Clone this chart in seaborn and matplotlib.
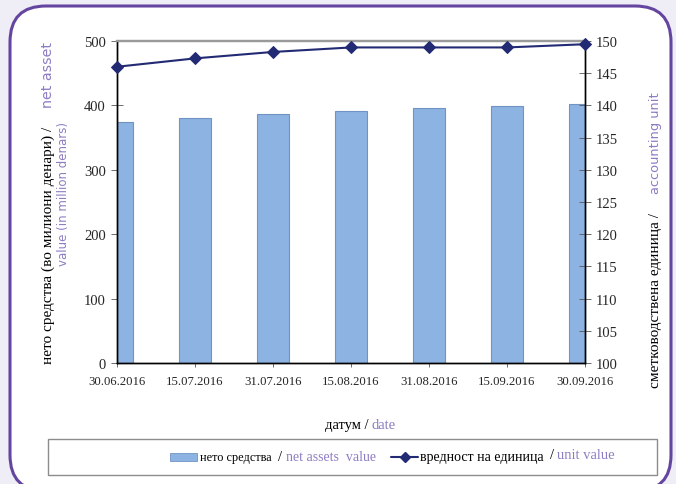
import numpy as np
import matplotlib
matplotlib.use("Agg")
import matplotlib.pyplot as plt
from matplotlib.patches import FancyBboxPatch, Rectangle
from matplotlib.lines import Line2D
import seaborn as sns

dates = ["30.06.2016", "15.07.2016", "31.07.2016", "15.08.2016",
         "31.08.2016", "15.09.2016", "30.09.2016"]
net_assets = [374, 380, 386, 391, 396, 399, 402]
unit_value = [146.0, 147.3, 148.3, 149.0, 149.0, 149.0, 149.5]

BAR = "#8db3e2"
BAR_EDGE = "#7193c4"
LINE = "#232a74"
PURPLE = "#8e7cc3"
FRAME = "#6445a0"
BG = "#efeef6"

sns.set_theme(style="white")
plt.rcParams["font.family"] = ["Liberation Serif", "DejaVu Serif"]
SANS = ["DejaVu Sans"]

W, H = 676, 485
fig = plt.figure(figsize=(W / 100, H / 100), dpi=100, facecolor=BG)

# rounded white frame (in inches)
frame = FancyBboxPatch((10 / 100, (H - 492) / 100), (671 - 10) / 100, (492 - 7) / 100,
                       boxstyle="round,pad=0,rounding_size=0.36",
                       transform=fig.dpi_scale_trans, facecolor="white",
                       edgecolor=FRAME, linewidth=2.2, zorder=-10)
fig.patches.append(frame)

ax = fig.add_axes([117 / W, 1 - 364 / H, 468 / W, 322 / H])
ax.set_facecolor("none")
ax.set_zorder(2)

x = np.arange(len(dates))
sns.barplot(x=x, y=net_assets, ax=ax, color=BAR, width=0.4,
            edgecolor=BAR_EDGE, linewidth=0.8, saturation=1, native_scale=True)
ax.set_xlim(0, len(dates) - 1)
ax.set_ylim(0, 500)
ax.set_yticks(range(0, 501, 100))
ax.set_xticks(x)
ax.set_xticklabels(dates)
ax.set_xlabel("")
ax.set_ylabel("")

ax2 = ax.twinx()
ax2.set_zorder(3)
sns.lineplot(x=x, y=unit_value, ax=ax2, color=LINE, marker="D", markersize=6,
             markeredgecolor=LINE, linewidth=1.5, clip_on=False, zorder=5)
ax2.set_ylim(100, 150)
ax2.set_yticks(range(100, 151, 5))
ax2.set_ylabel("")

for a in (ax, ax2):
    for s in a.spines.values():
        s.set_color("black")
        s.set_linewidth(1.0)
    a.spines["top"].set_color("#9a9a9a")
    a.spines["top"].set_linewidth(1.6)
ax.tick_params(axis="y", direction="inout", length=8, width=0.6, color="#555555",
               labelsize=10.5, pad=4)
ax.tick_params(axis="x", direction="inout", length=6, width=0.6, color="#555555",
               labelsize=9.2, pad=6, bottom=True)
ax2.tick_params(axis="y", direction="inout", length=8, width=0.6, color="#555555",
                labelsize=10.5, pad=4, right=True)

# axis titles, two colours
fig.text(48 / W, 1 - 364 / H, "нето средства (во милиони денари) /", rotation=90,
         ha="center", va="bottom", fontsize=11, color="black")
fig.text(48 / W, 1 - 42 / H, "net asset", rotation=90, ha="center", va="top",
         fontsize=10.3, color=PURPLE, family=SANS)
fig.text(64 / W, 1 - 194 / H, "value (in million denars)", rotation=90,
         ha="center", va="center", fontsize=8.5, color=PURPLE, family=SANS)

fig.text(655 / W, 1 - 388 / H, "сметководствена единица /", rotation=90,
         ha="center", va="bottom", fontsize=11, color="black")
fig.text(655 / W, 1 - 92 / H, "accounting unit", rotation=90, ha="center",
         va="top", fontsize=9.4, color=PURPLE, family=SANS)

fig.text(372 / W, 1 - 426 / H, "датум / ", ha="right", va="center",
         fontsize=10.5, color="black")
fig.text(372 / W, 1 - 426 / H, "date", ha="left", va="center",
         fontsize=10.5, color=PURPLE)

# legend box
fig.patches.append(Rectangle((48 / W, 1 - 476 / H), (657 - 48) / W, 36 / H,
                             transform=fig.transFigure, facecolor="white",
                             edgecolor="#8c8c8c", linewidth=1.0, zorder=1))
ly = 1 - 458 / H
fig.patches.append(Rectangle((170 / W, ly - 4 / H), 27 / W, 8 / H,
                             transform=fig.transFigure, facecolor=BAR,
                             edgecolor=BAR_EDGE, linewidth=0.6, zorder=2))
fig.text(200 / W, ly, "нето средства", ha="left", va="center", fontsize=8.8, color="black")
fig.text(278 / W, ly, "/", ha="left", va="center", fontsize=10.5, color="black")
fig.text(286 / W, ly, "net assets  value", ha="left", va="center", fontsize=10, color=PURPLE)
fig.lines.append(Line2D([391 / W, 418 / W], [ly, ly], transform=fig.transFigure,
                        color=LINE, linewidth=1.5, zorder=2))
fig.lines.append(Line2D([404.5 / W], [ly], transform=fig.transFigure, color=LINE,
                        marker="D", markersize=5, linestyle="none", zorder=3))
fig.text(420 / W, ly, "вредност на единица", ha="left", va="center", fontsize=10, color="black")
fig.text(550 / W, ly + 2 / H, "/", ha="left", va="center", fontsize=10.5, color="black")
fig.text(557 / W, ly + 2 / H, "unit value", ha="left", va="center", fontsize=10.5, color=PURPLE)

fig.savefig("out.png", dpi=100, facecolor=BG)
